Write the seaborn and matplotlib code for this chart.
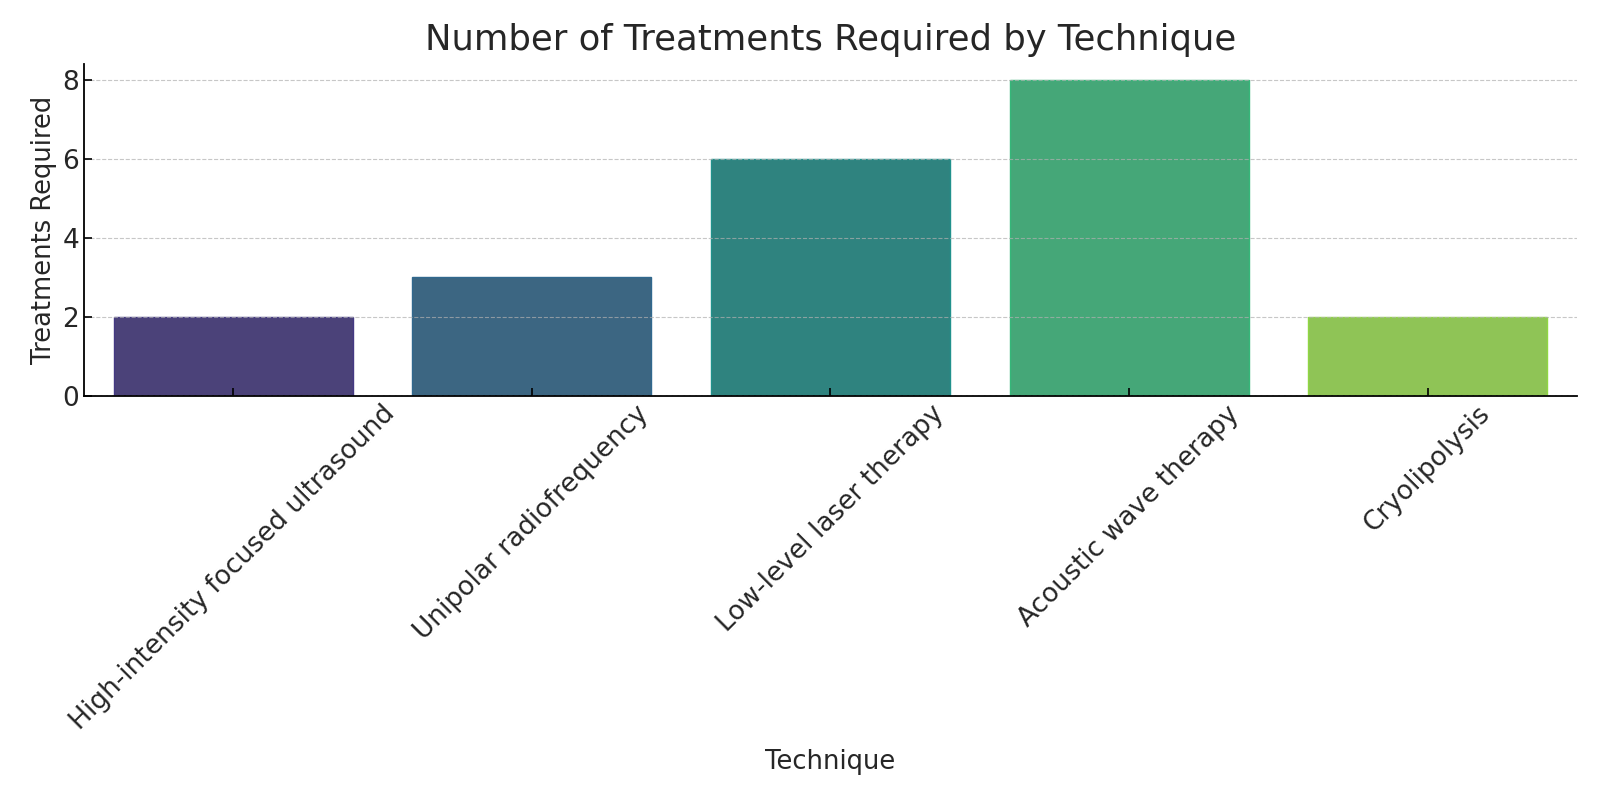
import matplotlib
matplotlib.use("Agg")
import matplotlib.pyplot as plt
import seaborn as sns
import pandas as pd

# Data
techniques = ['High-intensity focused ultrasound', 'Unipolar radiofrequency',
              'Low-level laser therapy', 'Acoustic wave therapy', 'Cryolipolysis']
treatments = [2, 3, 6, 8, 2]

df = pd.DataFrame({'Technique': techniques, 'Treatments Required': treatments})

sns.set_style("white")
plt.rcParams['font.family'] = ['DejaVu Sans']

fig, ax = plt.subplots(figsize=(16, 8), dpi=100)
sns.barplot(x='Technique', y='Treatments Required', data=df, hue='Technique',
            palette='viridis', legend=False, ax=ax)

# thin edge in the full-strength palette colour
edge_cols = sns.color_palette('viridis', len(techniques))
for bar, c in zip(ax.patches, edge_cols):
    bar.set_edgecolor(c)
    bar.set_linewidth(1)

ax.set_title('Number of Treatments Required by Technique', fontsize=25.5, pad=10)
ax.set_xlabel('Technique', fontsize=18.5, labelpad=10)
ax.set_ylabel('Treatments Required', fontsize=18.5)
plt.xticks(rotation=45, fontsize=19)
plt.yticks([0, 2, 4, 6, 8], fontsize=19)
# white style hides ticks, turn them back on, pointing inward
ax.tick_params(bottom=True, left=True, direction='in', length=6,
               width=1.2, color='black')
# grid sits over the bars, faint
ax.set_axisbelow(False)
ax.grid(axis='y', linestyle='--', color='#b0b0b0', alpha=0.7)
sns.despine(ax=ax)
for s in ['left', 'bottom']:
    ax.spines[s].set_color('black')
    ax.spines[s].set_linewidth(1.3)

fig.subplots_adjust(left=0.0525, right=0.9856, top=0.92, bottom=0.505)
plt.savefig('out.png')
